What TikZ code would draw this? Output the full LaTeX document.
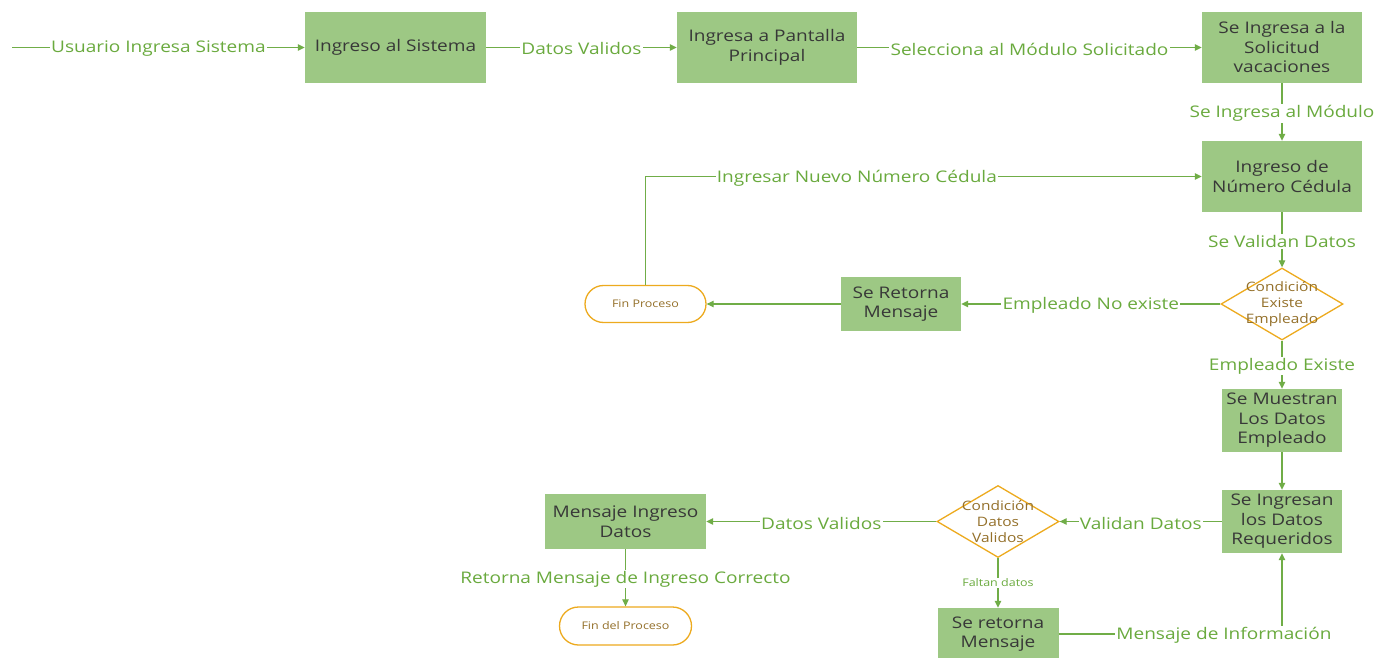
\documentclass[tikz,border=0pt]{standalone}
\usepackage{fontspec}
\setmainfont{Open Sans}[FakeStretch=1.19]
\usetikzlibrary{shapes.geometric,arrows.meta}
\definecolor{boxfill}{HTML}{9DC884}
\definecolor{flow}{HTML}{70AD47}
\definecolor{lbltext}{HTML}{6AAA3E}
\definecolor{gold}{HTML}{EDAA1E}
\definecolor{goldtext}{HTML}{94702A}
\definecolor{boxtext}{HTML}{383838}
\tikzset{
  procbox/.style={rectangle, fill=boxfill, text=boxtext, align=center, inner sep=0pt,
    font=\fontsize{16}{19.5}\selectfont},
  decision/.style={diamond, draw=gold, line width=1.3pt, fill=white,
    minimum width=122pt, minimum height=72pt, inner sep=0pt},
  decisiontext/.style={text=goldtext, align=center, font=\fontsize{13}{16}\selectfont},
  terminal/.style={rectangle, draw=gold, line width=1.3pt, fill=white, text=goldtext,
    font=\fontsize{10.5}{12}\selectfont, inner sep=0pt},
  flowline/.style={draw=flow, line width=1.2pt, -{Triangle[length=7pt,width=6.5pt]}},
  lbl/.style={fill=white, text=lbltext, inner sep=1.2pt, yshift=-1.5pt,
    font=\fontsize{16}{19}\selectfont},
  smalllbl/.style={fill=white, text=lbltext, inner sep=1.2pt, font=\fontsize{10.5}{13}\selectfont},
}
\begin{document}
\begin{tikzpicture}[x=1pt,y=-1pt]
  \useasboundingbox[fill=white] (0,0) rectangle (1374,658);

  % main row
  \coordinate (start) at (12,47.5);
  \node[procbox, minimum width=181pt, minimum height=71pt] (login) at (395.5,47.5) {Ingreso al Sistema};
  \node[procbox, minimum width=180pt, minimum height=71pt] (main) at (767,47.5) {Ingresa a Pantalla\\Principal};
  \node[procbox, minimum width=160pt, minimum height=71pt] (vac) at (1282,47.5) {Se Ingresa a la\\Solicitud\\vacaciones};
  \node[procbox, minimum width=160pt, minimum height=71pt] (ced) at (1282,176.5) {Ingreso de\\Número Cédula};

  % employee check
  \node[decision, label={[decisiontext]center:Condición\\Existe\\Empleado}] (d1) at (1282,304) {};
  \node[procbox, minimum width=120pt, minimum height=54pt] (ret1) at (901,304) {Se Retorna\\Mensaje};
  \node[terminal, minimum width=121pt, minimum height=37pt, rounded corners=18.5pt] (fin1) at (645.5,304) {Fin Proceso};

  % data entry
  \node[procbox, minimum width=120pt, minimum height=63pt] (show) at (1282,420.5) {Se Muestran\\Los Datos\\Empleado};
  \node[procbox, minimum width=120pt, minimum height=63pt] (req) at (1282,521.5) {Se Ingresan\\los Datos\\Requeridos};
  \node[decision, label={[decisiontext]center:Condición\\Datos\\Validos}] (d2) at (998,521.5) {};
  \node[procbox, minimum width=161pt, minimum height=55pt] (msg) at (625.5,521.5) {Mensaje Ingreso\\Datos};
  \node[terminal, minimum width=132pt, minimum height=38pt, rounded corners=19pt] (fin2) at (625.5,626) {Fin del Proceso};
  \node[procbox, minimum width=121pt, minimum height=52pt] (ret2) at (998,634) {Se retorna\\Mensaje};

  % connectors
  \draw[flowline] (start) -- node[lbl]{Usuario Ingresa Sistema} (login);
  \draw[flowline] (login) -- node[lbl]{Datos Validos} (main);
  \draw[flowline] (main) -- node[lbl]{Selecciona al Módulo Solicitado} (vac);
  \draw[flowline] (vac) -- node[lbl]{Se Ingresa al Módulo} (ced);
  \draw[flowline] (ced) -- node[lbl]{Se Validan Datos} (d1);
  \draw[flowline] (d1) -- node[lbl]{Empleado No existe} (ret1);
  \draw[flowline] (ret1) -- (fin1);
  \draw[flowline] (fin1) |- node[lbl, pos=0.69]{Ingresar Nuevo Número Cédula} (ced);
  \draw[flowline] (d1) -- node[lbl]{Empleado Existe} (show);
  \draw[flowline] (show) -- (req);
  \draw[flowline] (req) -- node[lbl]{Validan Datos} (d2);
  \draw[flowline] (d2) -- node[lbl]{Datos Validos} (msg);
  \draw[flowline] (msg) -- node[lbl]{Retorna Mensaje de Ingreso Correcto} (fin2);
  \draw[flowline] (d2) -- node[smalllbl]{Faltan datos} (ret2);
  \draw[flowline] (ret2) -| node[lbl, pos=0.37]{Mensaje de Información} (req);
\end{tikzpicture}
\end{document}
